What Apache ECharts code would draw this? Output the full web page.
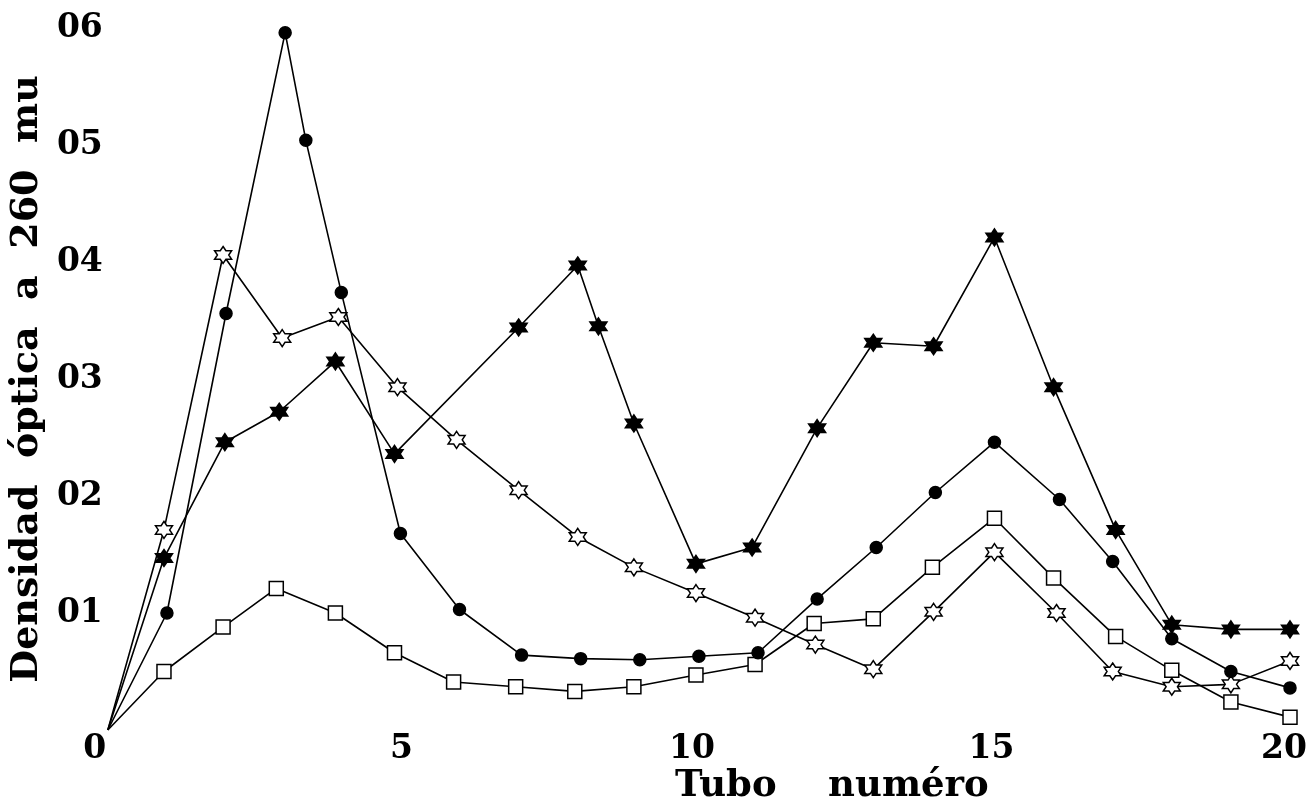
<!DOCTYPE html>
<html>
<head>
<meta charset="utf-8">
<script src="https://cdn.jsdelivr.net/npm/echarts@6/dist/echarts.min.js"></script>
<style>
html,body{margin:0;padding:0;background:#fff;}
#chart{width:1312px;height:803px;}
</style>
</head>
<body>
<div id="chart"></div>
<script>
// x positions (tube number) and values for each series
var circleX = [0, 1, 2, 3, 3.35, 3.95, 4.95, 5.95, 7, 8, 9, 10, 11, 12, 13, 14, 15, 16.1, 17, 18, 19, 20];
var circleY = [0, 0.100, 0.356, 0.596, 0.504, 0.374, 0.168, 0.103, 0.064, 0.061, 0.060, 0.063, 0.066, 0.112, 0.156, 0.203, 0.246, 0.197, 0.144, 0.078, 0.050, 0.036];

var fstarX = [0, 0.95, 1.98, 2.9, 3.85, 4.85, 6.95, 7.95, 8.3, 8.9, 9.95, 10.9, 12, 12.95, 13.97, 15, 16, 17.05, 18, 19, 20];
var fstarY = [0, 0.147, 0.246, 0.272, 0.315, 0.236, 0.344, 0.397, 0.345, 0.262, 0.142, 0.156, 0.258, 0.331, 0.328, 0.421, 0.293, 0.171, 0.090, 0.086, 0.086];

var ostarX = [0, 0.95, 1.95, 2.95, 3.9, 4.9, 5.9, 6.95, 7.95, 8.9, 9.95, 10.95, 11.97, 12.95, 13.97, 15, 16.05, 17, 18, 19, 20];
var ostarY = [0, 0.171, 0.406, 0.335, 0.353, 0.293, 0.248, 0.205, 0.165, 0.139, 0.117, 0.096, 0.073, 0.052, 0.101, 0.152, 0.100, 0.050, 0.037, 0.039, 0.059];

var squareX = [0, 0.95, 1.95, 2.85, 3.85, 4.85, 5.85, 6.9, 7.9, 8.9, 9.95, 10.95, 11.95, 12.95, 13.95, 15, 16, 17.05, 18, 19, 20];
var squareY = [0, 0.050, 0.088, 0.121, 0.100, 0.066, 0.041, 0.037, 0.033, 0.037, 0.047, 0.056, 0.091, 0.095, 0.139, 0.181, 0.130, 0.080, 0.051, 0.024, 0.011];

var xTickLabels = ['0', '5', '10', '15', '20'];
var yTickLabels = ['', '01', '02', '03', '04', '05', '06'];

var xTitle = 'Tubo    numéro';
var yTitle = 'Densidad  óptica  a  260  mu';

function pairs(xs, ys) {
  var out = [];
  for (var i = 0; i < xs.length; i++) {
    var item = {value: [xs[i], ys[i]]};
    if (xs[i] === 0 && ys[i] === 0) item.symbol = 'none';
    out.push(item);
  }
  return out;
}

var hexagram = 'path://M50,0 L64.43,25 L93.3,25 L78.87,50 L93.3,75 L64.43,75 L50,100 L35.57,75 L6.7,75 L21.13,50 L6.7,25 L35.57,25 Z';
var FONT = 'DejaVu Serif';

var chart = echarts.init(document.getElementById('chart'), null, {renderer: 'canvas'});

function lineSeries(name, data, symbol, size, fill, z) {
  return {
    name: name,
    type: 'line',
    data: data,
    symbol: symbol,
    symbolSize: size,
    showSymbol: true,
    z: z,
    lineStyle: {color: '#000', width: 1.6},
    itemStyle: {color: fill, borderColor: '#000', borderWidth: 1.5},
    emphasis: {disabled: true},
    animation: false
  };
}

var labelFont = {fontFamily: FONT, fontWeight: 'bold', fontSize: 33, color: '#000'};
// per-label style keys (the printed labels sit slightly left of their ticks)
var xLabelStyleKeys = ['l0', 'l5', 'l10', 'l15', 'l20'];
var rich = {
  l0: Object.assign({padding: [0, 26, 0, 0]}, labelFont),
  l5: Object.assign({padding: [0, 4, 0, 0]}, labelFont),
  l10: Object.assign({padding: [0, 14, 0, 0]}, labelFont),
  l15: Object.assign({padding: [0, 6, 0, 0]}, labelFont),
  l20: Object.assign({padding: [0, 12, 0, 0]}, labelFont)
};

var option = {
  backgroundColor: '#fff',
  animation: false,
  title: {
    text: xTitle,
    left: 670,
    top: 763,
    textStyle: {fontFamily: FONT, fontWeight: 'bold', fontSize: 37, color: '#000'}
  },
  grid: {left: 107, right: 22, top: 28, bottom: 73, containLabel: false},
  xAxis: {
    type: 'value',
    min: 0, max: 20, interval: 5,
    axisLine: {show: false},
    axisTick: {show: false},
    splitLine: {show: false},
    axisLabel: {
      margin: 3,
      fontFamily: FONT, fontWeight: 'bold', fontSize: 33, color: '#000',
      rich: rich,
      formatter: function (v) {
        var i = Math.round(v / 5);
        return '{' + xLabelStyleKeys[i] + '|' + xTickLabels[i] + '}';
      }
    }
  },
  yAxis: {
    type: 'value',
    min: 0, max: 0.6, interval: 0.1,
    axisLine: {show: false},
    axisTick: {show: false},
    splitLine: {show: false},
    name: yTitle,
    nameLocation: 'middle',
    nameRotate: 90,
    nameGap: 61,
    nameTextStyle: {fontFamily: FONT, fontWeight: 'bold', fontSize: 38, color: '#000'},
    axisLabel: {
      margin: 5,
      fontFamily: FONT, fontWeight: 'bold', fontSize: 33, color: '#000',
      formatter: function (v) { return yTickLabels[Math.round(v * 10)]; }
    }
  },
  series: [
    lineSeries('circles', pairs(circleX, circleY), 'circle', 12, '#000', 3),
    lineSeries('filled stars', pairs(fstarX, fstarY), hexagram, 17, '#000', 4),
    lineSeries('open stars', pairs(ostarX, ostarY), hexagram, 17, '#fff', 5),
    lineSeries('squares', pairs(squareX, squareY), 'rect', 14, '#fff', 2)
  ]
};

chart.setOption(option);
</script>
</body>
</html>
